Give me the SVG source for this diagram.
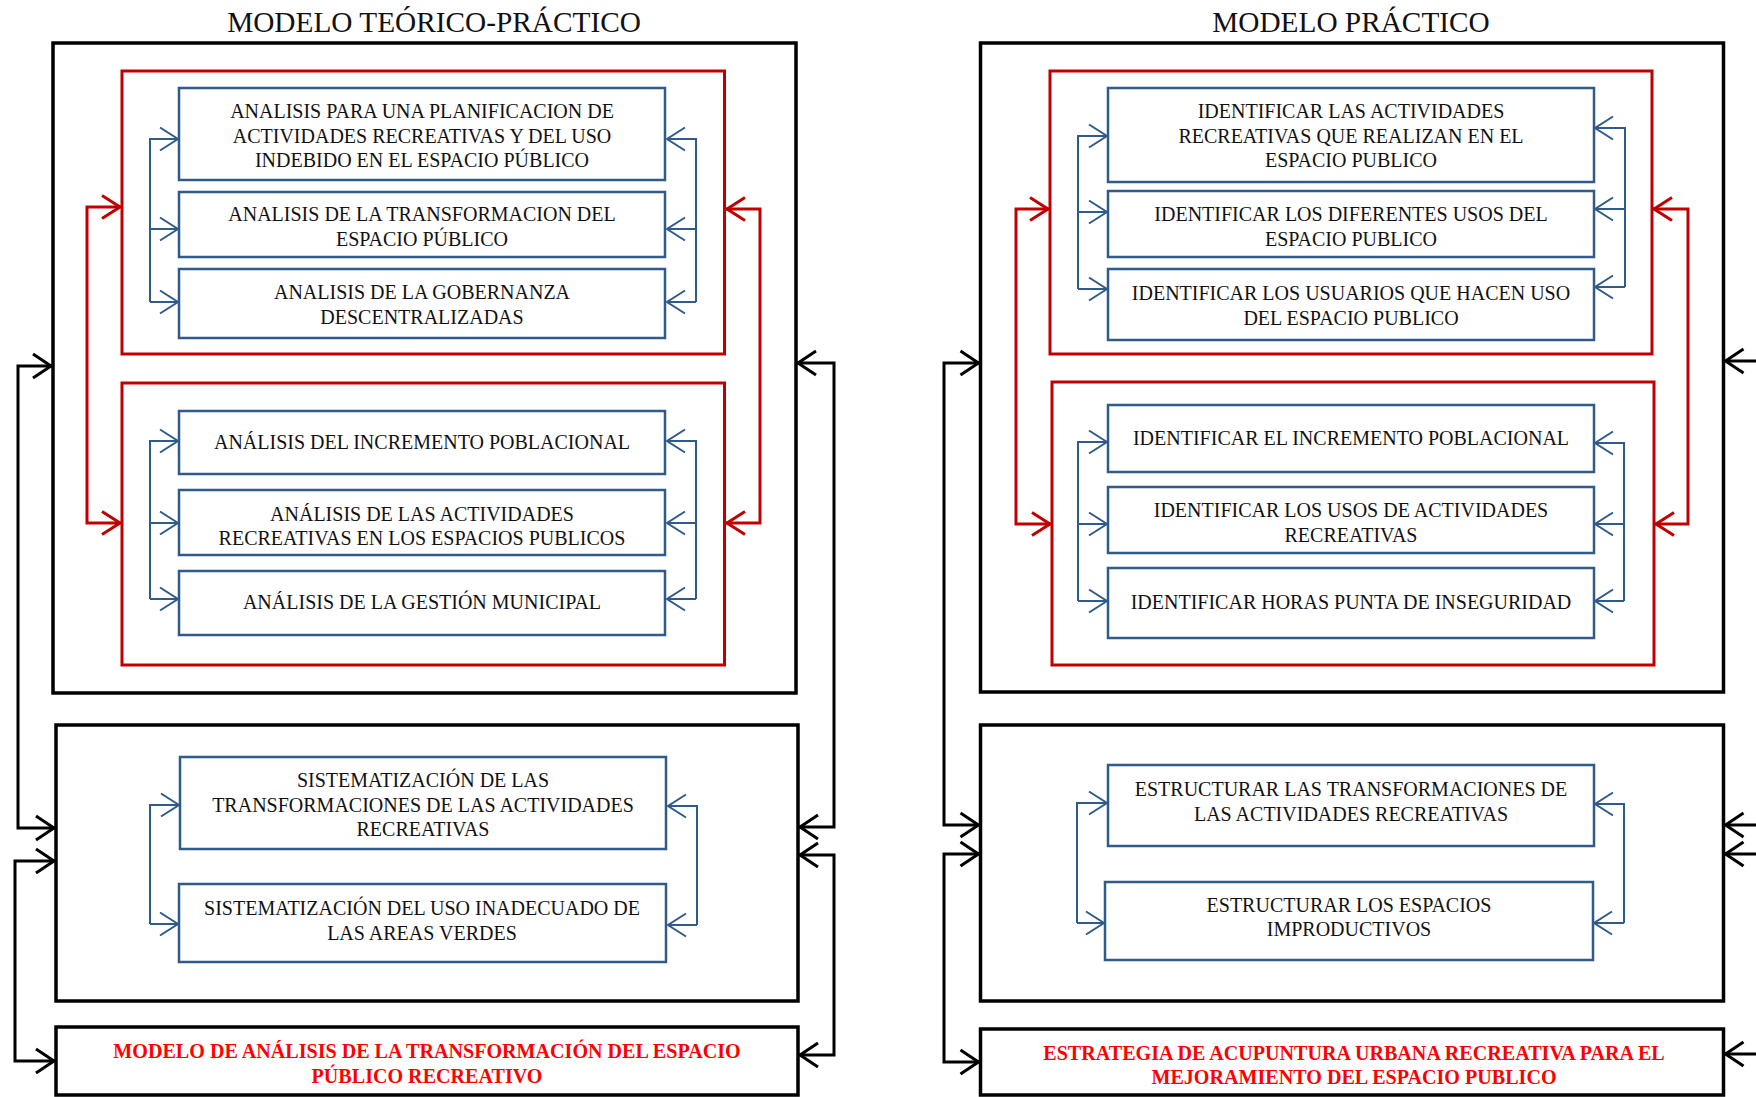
<svg xmlns="http://www.w3.org/2000/svg" width="1756" height="1097" viewBox="0 0 1756 1097">
<defs>
<style>
text{font-family:"Liberation Serif","Times New Roman",serif;text-anchor:middle;fill:#111}
.title{font-size:29.3px}
.t{font-size:20px}
.rt{font-size:20.1px;font-weight:bold;fill:#ff0000}
.bk{fill:#fff;stroke:#000;stroke-width:3.5}
.rd{fill:none;stroke:#c00000;stroke-width:3}
.bl{fill:#fff;stroke:#2f5a8a;stroke-width:2.5}
.cb{fill:none;stroke:#2f5a8a;stroke-width:2;marker-end:url(#mb)}
.cbl{fill:none;stroke:#2f5a8a;stroke-width:2}
.cr{fill:none;stroke:#c00000;stroke-width:3;marker-start:url(#mr);marker-end:url(#mr)}
.ck{fill:none;stroke:#000;stroke-width:3;marker-start:url(#mk);marker-end:url(#mk)}
</style>
<marker id="mb" markerUnits="userSpaceOnUse" viewBox="-22 -14 24 28" markerWidth="24" markerHeight="28" refX="0" refY="0" orient="auto-start-reverse" overflow="visible">
<path d="M-18,-11.5 L0,0 L-18,11.5" fill="none" stroke="#2f5a8a" stroke-width="2"/>
</marker>
<marker id="mr" markerUnits="userSpaceOnUse" viewBox="-22 -14 24 28" markerWidth="24" markerHeight="28" refX="0" refY="0" orient="auto-start-reverse" overflow="visible">
<path d="M-19,-11.5 L-1,0 L-19,11.5" fill="none" stroke="#c00000" stroke-width="3"/>
</marker>
<marker id="mk" markerUnits="userSpaceOnUse" viewBox="-22 -14 24 28" markerWidth="24" markerHeight="28" refX="0" refY="0" orient="auto-start-reverse" overflow="visible">
<path d="M-19,-12 L-1,0 L-19,12" fill="none" stroke="#000" stroke-width="3"/>
</marker>
</defs>
<rect width="1756" height="1097" fill="#fff"/>

<text class="title" x="434" y="32">MODELO TEÓRICO-PRÁCTICO</text>
<text class="title" x="1351" y="32">MODELO PRÁCTICO</text>

<!-- Left containers -->
<g id="left-outer"><rect class="bk" x="53" y="43" width="743" height="650"/></g>
<g id="left-red1"><rect class="rd" x="122" y="71" width="602.5" height="283"/></g>
<g id="left-red2"><rect class="rd" x="122" y="383" width="602.5" height="282"/></g>
<g id="left-box2"><rect class="bk" x="56" y="725" width="742" height="276"/></g>
<g id="left-result"><rect class="bk" x="56" y="1027" width="742" height="68"/>
<text class="rt" x="427" y="1058">MODELO DE ANÁLISIS DE LA TRANSFORMACIÓN DEL ESPACIO</text>
<text class="rt" x="427" y="1083">PÚBLICO RECREATIVO</text></g>

<!-- Right containers -->
<g id="right-outer"><rect class="bk" x="980.5" y="43" width="743" height="649"/></g>
<g id="right-red1"><rect class="rd" x="1050" y="71" width="602" height="283"/></g>
<g id="right-red2"><rect class="rd" x="1052" y="382" width="602" height="283"/></g>
<g id="right-box2"><rect class="bk" x="980.5" y="725" width="743" height="276"/></g>
<g id="right-result"><rect class="bk" x="980.5" y="1029" width="743" height="66"/>
<text class="rt" x="1354" y="1060">ESTRATEGIA DE ACUPUNTURA URBANA RECREATIVA PARA EL</text>
<text class="rt" x="1354" y="1084">MEJORAMIENTO DEL ESPACIO PUBLICO</text></g>

<!-- Left blue nodes -->
<g id="l1"><rect class="bl" x="179" y="88" width="486" height="92"/>
<text class="t" x="422" y="118">ANALISIS PARA UNA PLANIFICACION DE</text>
<text class="t" x="422" y="142.5">ACTIVIDADES RECREATIVAS Y DEL USO</text>
<text class="t" x="422" y="166.5">INDEBIDO EN EL ESPACIO PÚBLICO</text></g>
<g id="l2"><rect class="bl" x="179" y="192" width="486" height="65"/>
<text class="t" x="422" y="220.5">ANALISIS DE LA TRANSFORMACION DEL</text>
<text class="t" x="422" y="245.5">ESPACIO PÚBLICO</text></g>
<g id="l3"><rect class="bl" x="179" y="269" width="486" height="69"/>
<text class="t" x="422" y="299">ANALISIS DE LA GOBERNANZA</text>
<text class="t" x="422" y="323.5">DESCENTRALIZADAS</text></g>
<g id="l4"><rect class="bl" x="179" y="411" width="486" height="63"/>
<text class="t" x="422" y="449">ANÁLISIS DEL INCREMENTO POBLACIONAL</text></g>
<g id="l5"><rect class="bl" x="179" y="490" width="486" height="65"/>
<text class="t" x="422" y="521">ANÁLISIS DE LAS ACTIVIDADES</text>
<text class="t" x="422" y="545">RECREATIVAS EN LOS ESPACIOS PUBLICOS</text></g>
<g id="l6"><rect class="bl" x="179" y="571" width="486" height="64"/>
<text class="t" x="422" y="608.5">ANÁLISIS DE LA GESTIÓN MUNICIPAL</text></g>
<g id="l7"><rect class="bl" x="180" y="757" width="486" height="92"/>
<text class="t" x="423" y="787">SISTEMATIZACIÓN DE LAS</text>
<text class="t" x="423" y="811.5">TRANSFORMACIONES DE LAS ACTIVIDADES</text>
<text class="t" x="423" y="836">RECREATIVAS</text></g>
<g id="l8"><rect class="bl" x="179" y="884" width="487" height="78"/>
<text class="t" x="422" y="915">SISTEMATIZACIÓN DEL USO INADECUADO DE</text>
<text class="t" x="422" y="939.5">LAS AREAS VERDES</text></g>

<!-- Right blue nodes -->
<g id="r1"><rect class="bl" x="1108" y="88" width="486" height="94"/>
<text class="t" x="1351" y="118">IDENTIFICAR LAS ACTIVIDADES</text>
<text class="t" x="1351" y="142.5">RECREATIVAS QUE REALIZAN EN EL</text>
<text class="t" x="1351" y="166.5">ESPACIO PUBLICO</text></g>
<g id="r2"><rect class="bl" x="1108" y="191" width="486" height="66"/>
<text class="t" x="1351" y="220.5">IDENTIFICAR LOS DIFERENTES USOS DEL</text>
<text class="t" x="1351" y="246">ESPACIO PUBLICO</text></g>
<g id="r3"><rect class="bl" x="1108" y="269" width="486" height="71"/>
<text class="t" x="1351" y="300">IDENTIFICAR LOS USUARIOS QUE HACEN USO</text>
<text class="t" x="1351" y="324.5">DEL ESPACIO PUBLICO</text></g>
<g id="r4"><rect class="bl" x="1108" y="405" width="486" height="67"/>
<text class="t" x="1351" y="445">IDENTIFICAR EL INCREMENTO POBLACIONAL</text></g>
<g id="r5"><rect class="bl" x="1108" y="487" width="486" height="66"/>
<text class="t" x="1351" y="517">IDENTIFICAR LOS USOS DE ACTIVIDADES</text>
<text class="t" x="1351" y="542">RECREATIVAS</text></g>
<g id="r6"><rect class="bl" x="1108" y="568" width="486" height="70"/>
<text class="t" x="1351" y="609">IDENTIFICAR HORAS PUNTA DE INSEGURIDAD</text></g>
<g id="r7"><rect class="bl" x="1108" y="765" width="486" height="81"/>
<text class="t" x="1351" y="796">ESTRUCTURAR LAS TRANSFORMACIONES DE</text>
<text class="t" x="1351" y="820.5">LAS ACTIVIDADES RECREATIVAS</text></g>
<g id="r8"><rect class="bl" x="1105" y="882" width="488" height="78"/>
<text class="t" x="1349" y="911.5">ESTRUCTURAR LOS ESPACIOS</text>
<text class="t" x="1349" y="935.5">IMPRODUCTIVOS</text></g>

<g id="connectors">
<!-- left blue brackets -->
<path class="cbl" d="M178,139 H150 V302"/>
<path class="cb" d="M150,139 H178"/><path class="cb" d="M150,229 H178"/><path class="cb" d="M150,302 H178"/>
<path class="cbl" d="M667,139 H696 V302"/>
<path class="cb" d="M696,139 H667"/><path class="cb" d="M696,229 H667"/><path class="cb" d="M696,302 H667"/>
<path class="cbl" d="M178,441 H150 V599"/>
<path class="cb" d="M150,441 H178"/><path class="cb" d="M150,523 H178"/><path class="cb" d="M150,599 H178"/>
<path class="cbl" d="M667,441 H696 V599"/>
<path class="cb" d="M696,441 H667"/><path class="cb" d="M696,523 H667"/><path class="cb" d="M696,599 H667"/>
<path class="cbl" d="M178,805 H150 V924"/>
<path class="cb" d="M150,805 H179"/><path class="cb" d="M150,924 H178"/>
<path class="cbl" d="M668,806 H697 V925"/>
<path class="cb" d="M697,806 H668"/><path class="cb" d="M697,925 H668"/>
<!-- right blue brackets -->
<path class="cbl" d="M1107,136 H1078 V289"/>
<path class="cb" d="M1078,136 H1107"/><path class="cb" d="M1078,212 H1107"/><path class="cb" d="M1078,289 H1107"/>
<path class="cbl" d="M1595,128 H1625 V287"/>
<path class="cb" d="M1625,128 H1595"/><path class="cb" d="M1625,209 H1595"/><path class="cb" d="M1625,287 H1595"/>
<path class="cbl" d="M1107,442 H1078 V601"/>
<path class="cb" d="M1078,442 H1107"/><path class="cb" d="M1078,524 H1107"/><path class="cb" d="M1078,601 H1107"/>
<path class="cbl" d="M1595,443 H1624 V601"/>
<path class="cb" d="M1624,443 H1595"/><path class="cb" d="M1624,524 H1595"/><path class="cb" d="M1624,601 H1595"/>
<path class="cbl" d="M1107,803 H1077 V923"/>
<path class="cb" d="M1077,803 H1107"/><path class="cb" d="M1077,923 H1104"/>
<path class="cbl" d="M1595,804 H1624 V923"/>
<path class="cb" d="M1624,804 H1595"/><path class="cb" d="M1624,923 H1594"/>
<!-- red -->
<path class="cr" d="M121,207 H87 V523 H121"/>
<path class="cr" d="M726,209 H760 V523 H726"/>
<path class="cr" d="M1049,209 H1016 V524 H1051"/>
<path class="cr" d="M1653,209 H1688 V524 H1655"/>
<!-- black -->
<path class="ck" d="M52,366 H18 V828 H55"/>
<path class="ck" d="M55,861 H15 V1061 H55"/>
<path class="ck" d="M797,363 H834 V827 H799"/>
<path class="ck" d="M799,855 H834 V1055 H799"/>
<path class="ck" d="M979.5,363 H944 V825 H979.5"/>
<path class="ck" d="M979.5,854 H944 V1062 H979.5"/>
<path class="ck" d="M1724.5,361 H1760 V825 H1724.5"/>
<path class="ck" d="M1724.5,854 H1760 V1054 H1724.5"/>
</g>
</svg>
